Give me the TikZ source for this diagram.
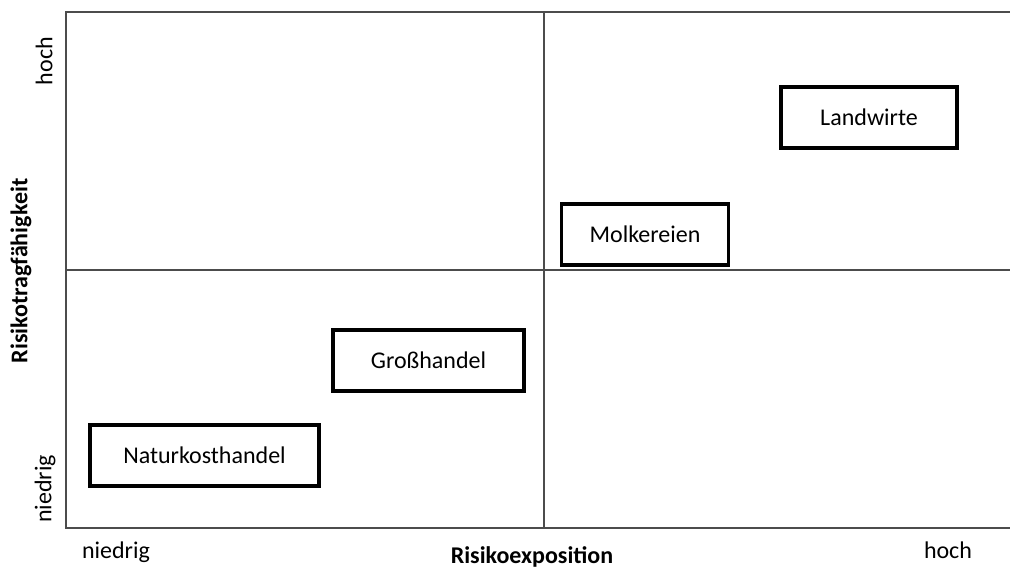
\documentclass[tikz,border=0pt]{standalone}
\usepackage{fontspec}
\setmainfont{Carlito}

\begin{document}
\begin{tikzpicture}[x=0.75pt, y=-0.75pt, font=\fontsize{18}{21}\selectfont,
                    feld/.style={draw, line width=2.6pt, minimum height=45.5pt, inner sep=0pt},
                    achse/.style={draw=black!70, line width=1pt},
                    marke/.style={inner sep=0pt}]
                \useasboundingbox (0,0) rectangle (1010,569);

                      % Achsen und Quadranten
                      \coordinate (o)  at (66,528);
                      \coordinate (lo) at (66,12);
                      \coordinate (ro) at (1010,12);
                      \coordinate (ru) at (1010,528);
                      \coordinate (mo) at (544,12);
                      \coordinate (mu) at (544,528);
                      \coordinate (ml) at (66,270);
                      \coordinate (mr) at (1010,270);

                      \path[achse] (ro) -- (lo) -- (o) -- (ru)
                                   (mo) -- (mu)
                                   (ml) -- (mr);

                      \node[feld, minimum width=132pt]   (lw) at (869,117.5) {Landwirte};
                      \node[feld, minimum width=125pt]   (mk) at (645,234.5) {Molkereien};
                      \node[feld, minimum width=143.5pt] (gh) at (428.5,360.5) {Großhandel};
                      \node[feld, minimum width=172pt]   (nk) at (204.5,455.5) {Naturkosthandel};

                      \node[marke, rotate=90] (yh) at (44,61)  {hoch};
                      \node[marke, rotate=90] (yn) at (45,489) {niedrig};
                      \node[marke, rotate=90, font=\fontsize{18}{21}\selectfont\bfseries] (yt) at (21,271) {Risikotragfähigkeit};

                      \node[marke] (xn) at (116,552) {niedrig};
                      \node[marke] (xh) at (948,550) {hoch};
                      \node[marke, font=\fontsize{18}{21}\selectfont\bfseries] (xt) at (532,557) {Risikoexposition};
                \end{tikzpicture}
\end{document}
